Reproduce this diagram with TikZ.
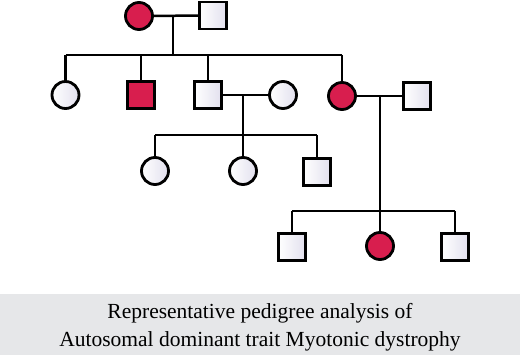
\documentclass[tikz,border=0pt]{standalone}
\usepackage{fontspec}
\setmainfont{Liberation Serif}
\definecolor{aff}{HTML}{D81E4E}
\definecolor{lav}{HTML}{E2E0EE}
\definecolor{capbg}{HTML}{E6E7E9}
\begin{document}
\begin{tikzpicture}[x=1pt,y=-1pt,
  lnk/.style={line width=2.5pt,black},
  male/.style={draw=black,line width=2.8pt,minimum size=27pt,inner sep=0pt,left color=white,right color=lav},
  female/.style={draw=black,line width=2.8pt,circle,minimum size=27pt,inner sep=0pt,left color=white,right color=lav},
  amale/.style={male,fill=aff,left color=aff,right color=aff},
  afemale/.style={female,fill=aff,left color=aff,right color=aff}]
\useasboundingbox (0,0) rectangle (520,355);
\fill[capbg] (0,294) rectangle (520,355);
% Gen I
\node[afemale] (i1) at (139,16) {};
\node[male] (i2) at (213,15.5) {};
\coordinate (m1) at (173,15.5);
\coordinate (s1) at (173,55);
% Gen II
\node[female] (ii1) at (65.5,95) {};
\node[amale] (ii2) at (141,95) {};
\node[male] (ii3) at (208,95) {};
\node[female] (ii4) at (283,95) {};
\node[afemale] (ii5) at (342,96) {};
\node[male] (ii6) at (417,96) {};
\coordinate (m2) at (243,95);
\coordinate (s2) at (243,135);
\coordinate (m3) at (380,96);
\coordinate (s3) at (380,211);
% Gen III
\node[female] (iii1) at (155,171) {};
\node[female] (iii2) at (243,171) {};
\node[male] (iii3) at (317,172) {};
\node[male] (iii4) at (292,247) {};
\node[afemale] (iii5) at (380,246) {};
\node[male] (iii6) at (455,247) {};
% links
\draw[lnk] (i1) -- (i2);
\draw[lnk] (m1) -- (s1);
\draw[lnk] (ii1.north |- s1) -- (ii5.north |- s1);
\foreach \c in {ii1,ii2,ii3,ii5} \draw[lnk] (\c.north |- s1) -- (\c.north);
\draw[lnk] (ii3) -- (ii4);
\draw[lnk] (m2) -- (s2);
\draw[lnk] (iii1.north |- s2) -- (iii3.north |- s2);
\foreach \c in {iii1,iii2,iii3} \draw[lnk] (\c.north |- s2) -- (\c.north);
\draw[lnk] (ii5) -- (ii6);
\draw[lnk] (m3) -- (s3);
\draw[lnk] (iii4.north |- s3) -- (iii6.north |- s3);
\foreach \c in {iii4,iii5,iii6} \draw[lnk] (\c.north |- s3) -- (\c.north);
% caption
\node[font=\fontsize{21.5}{28}\selectfont,align=center] (cap) at (260,327) {Representative pedigree analysis of\\Autosomal dominant trait Myotonic dystrophy};
\end{tikzpicture}
\end{document}
